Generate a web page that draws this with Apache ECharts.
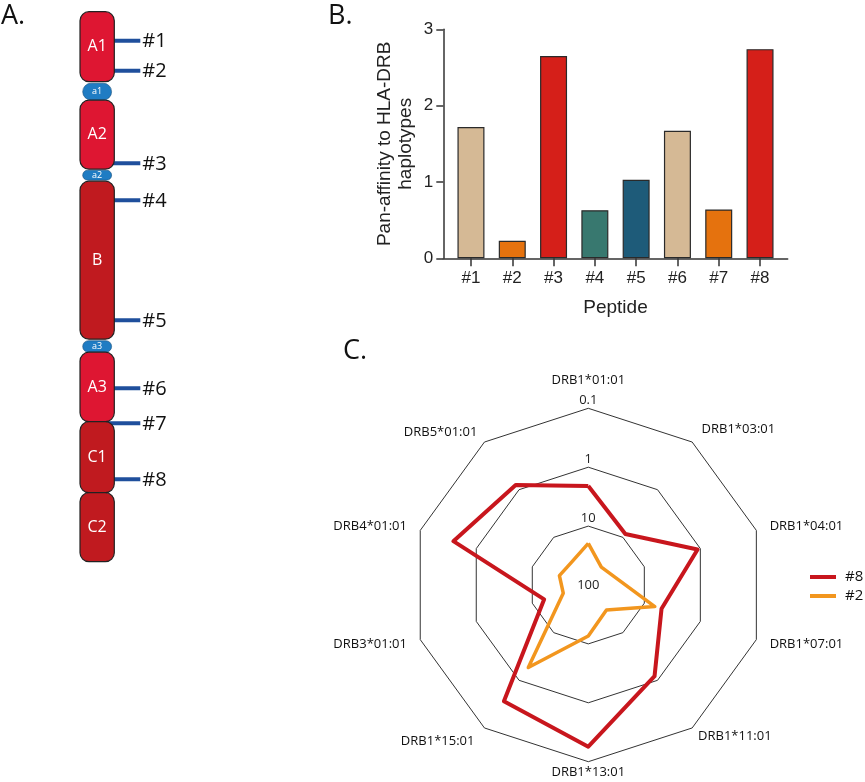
<!DOCTYPE html>
<html><head><meta charset="utf-8">
<script src="https://cdn.jsdelivr.net/npm/echarts@6/dist/echarts.min.js"></script>
<style>html,body{margin:0;padding:0;background:#fff}#c{width:865px;height:782px}</style>
</head><body><div id="c"></div>
<script>
// ---------- Panel A: factor VIII domain schematic ----------
const domainNames = ['A1', 'a1', 'A2', 'a2', 'B', 'a3', 'A3', 'C1', 'C2'];
const domainStart = [0, 71.5, 88.5, 158.5, 169.5, 329, 340.5, 410, 481];
const domainEnd   = [70, 88.5, 157.5, 168.5, 327.5, 340.5, 410, 481, 550];
const domainKind  = ['A', 'acidic', 'A', 'acidic', 'B', 'acidic', 'A', 'C', 'C'];
const peptideLabels = ['#1', '#2', '#3', '#4', '#5', '#6', '#7', '#8'];
const peptidePos = [29, 59, 151.5, 188.5, 308.5, 376.5, 411.5, 467.5];

// ---------- Panel B: pan-affinity bars ----------
const barCategories = ['#1', '#2', '#3', '#4', '#5', '#6', '#7', '#8'];
const panAffinity = [1.72, 0.23, 2.65, 0.63, 1.03, 1.67, 0.64, 2.74];
const barColors = ['#D5B995', '#E5720E', '#D51F19', '#38786F', '#1E5B79', '#D5B995', '#E5720E', '#D51F19'];

// ---------- Panel C: radar (affinity, log scale, 100 at centre -> 0.1 outside) ----------
const alleles = ['DRB1*01:01', 'DRB1*03:01', 'DRB1*04:01', 'DRB1*07:01', 'DRB1*11:01',
                 'DRB1*13:01', 'DRB1*15:01', 'DRB3*01:01', 'DRB4*01:01', 'DRB5*01:01'];
const affinity8 = [2.08, 8.5, 1.12, 4.93, 1.22, 0.18, 0.365, 16.3, 0.39, 0.80];
const affinity2 = [19.6, 42, 34.5, 6.5, 29.9, 13.6, 1.85, 35.7, 30.5, 33];
const radarTickLabels = ['100', '10', '1', '0.1'];
const nameGaps = [22, 16, 14, 14, 10, 4, 17, 14, 14, 12];

const RED = '#C8161D', ORANGE = '#F2961E';
const FONT_M = 'Open Sans';
const FONT_A = 'Liberation Sans, Arial, sans-serif';

// ECharts radar runs counter-clockwise; reference runs clockwise from top
const ccw = [0].concat(alleles.map((_, i) => i).slice(1).reverse());
const toRadar = arr => ccw.map(i => 2 - Math.log10(arr[i]));

const domainColor = {A: '#DE1632', B: '#C01A1F', C: '#C01A1F', acidic: '#1F7CC3'};

const chart = echarts.init(document.getElementById('c'), null, {renderer: 'canvas'});
const letterStyle = {fontSize: 27, fontWeight: 'normal', color: '#111', fontFamily: FONT_M};
const option = {
  animation: false,
  backgroundColor: '#fff',
  title: [
    {text: 'A.', left: 1, top: 3, padding: 0, textStyle: letterStyle},
    {text: 'B.', left: 328, top: 3, padding: 0, textStyle: letterStyle},
    {text: 'C.', left: 343, top: 338, padding: 0, textStyle: letterStyle}
  ],
  legend: {
    data: ['#8', '#2'], orient: 'vertical', left: 810, top: 569, padding: 0,
    icon: 'rect', itemWidth: 26, itemHeight: 4, itemGap: 3,
    textStyle: {fontSize: 15, color: '#111', fontFamily: FONT_M, lineHeight: 16, padding: [0, 0, 0, 4]}
  },
  grid: [
    {left: 443.3, top: 29.3, width: 344.4, height: 229},
    {left: 80, top: 11.7, width: 34.3, height: 550}
  ],
  xAxis: [
    {
      type: 'value', gridIndex: 0, min: 0.33, max: 8.67,
      axisLine: {show: true, lineStyle: {color: '#333', width: 1.5}},
      axisTick: {show: true, customValues: [1, 2, 3, 4, 5, 6, 7, 8], length: 8, lineStyle: {color: '#333', width: 1.5}},
      axisLabel: {customValues: [1, 2, 3, 4, 5, 6, 7, 8], formatter: v => barCategories[Math.round(v) - 1],
                  fontSize: 17, color: '#222', margin: 12, fontFamily: FONT_A},
      splitLine: {show: false},
      name: 'Peptide', nameLocation: 'middle', nameGap: 40,
      nameTextStyle: {fontSize: 19, color: '#222', fontFamily: FONT_A}
    },
    {type: 'value', gridIndex: 1, min: 0, max: 1, show: false}
  ],
  yAxis: [
    {
      type: 'value', gridIndex: 0, min: 0, max: 3, interval: 1,
      axisLine: {show: true, lineStyle: {color: '#333', width: 1.5}},
      axisTick: {show: true, length: 7, lineStyle: {color: '#333', width: 1.5}},
      axisLabel: {fontSize: 17, color: '#222', margin: 10, fontFamily: FONT_A},
      splitLine: {show: false},
      name: 'Pan-affinity to HLA-DRB\nhaplotypes', nameLocation: 'middle', nameGap: 27,
      nameTextStyle: {fontSize: 19, color: '#222', fontFamily: FONT_A, lineHeight: 21}
    },
    {type: 'value', gridIndex: 1, min: 0, max: 550, inverse: true, show: false}
  ],
  radar: {
    center: [588.3, 585], radius: 176.7, startAngle: 90, shape: 'polygon', splitNumber: 3,
    indicator: ccw.map((idx, k) => {
      const ind = {name: alleles[idx], min: 0, max: 3, nameGap: nameGaps[idx]};
      if (k === 0) {
        ind.axisLabel = {
          show: true, margin: 0, align: 'center', verticalAlign: 'middle',
          formatter: v => {
            const s = radarTickLabels[Math.round(v)];
            return Math.round(v) === 0 ? '{c|' + s + '}' : '{u|' + s + '}';
          },
          rich: {
            c: {fontSize: 13, color: '#222', fontFamily: FONT_M},
            u: {fontSize: 13, color: '#222', fontFamily: FONT_M, padding: [0, 0, 16, 0]}
          }
        };
      }
      return ind;
    }),
    axisName: {color: '#111', fontSize: 13, fontFamily: FONT_M},
    splitLine: {lineStyle: {color: '#333', width: 1}},
    splitArea: {show: false},
    axisLine: {show: false},
    axisTick: {show: false},
    axisLabel: {show: false}
  },
  series: [
    {
      type: 'bar', xAxisIndex: 0, yAxisIndex: 0, barWidth: 27,
      data: panAffinity.map((v, i) => ({value: [i + 1, v], itemStyle: {color: barColors[i]}})),
      itemStyle: {borderColor: '#2a2a2a', borderWidth: 1.2}
    },
    {
      type: 'custom', xAxisIndex: 1, yAxisIndex: 1, clip: false, z: 1,
      data: peptidePos.map(p => [p]),
      encode: {y: 0},
      renderItem: (params, api) => {
        const pt = api.coord([1, api.value(0)]);
        return {
          type: 'group', children: [
            {type: 'line', shape: {x1: pt[0] - 7, y1: pt[1], x2: pt[0] + 26, y2: pt[1]},
             style: {stroke: '#1F4F9C', lineWidth: 4}},
            {type: 'text', style: {text: peptideLabels[params.dataIndex], x: pt[0] + 28, y: pt[1] + 1,
             align: 'left', verticalAlign: 'middle', fill: '#111', fontSize: 20, fontFamily: FONT_M}}
          ]
        };
      }
    },
    {
      type: 'custom', xAxisIndex: 1, yAxisIndex: 1, clip: false, z: 3,
      data: domainStart.map((s, i) => [s, domainEnd[i]]),
      encode: {y: [0, 1]},
      renderItem: (params, api) => {
        const i = params.dataIndex;
        const p0 = api.coord([0, api.value(0)]);
        const p1 = api.coord([1, api.value(1)]);
        const acidic = domainKind[i] === 'acidic';
        const inset = acidic ? 2.7 : 0;
        const x = p0[0] + inset, w = p1[0] - p0[0] - 2 * inset;
        const y = p0[1], h = p1[1] - p0[1];
        return {
          type: 'group', children: [
            {type: 'rect', shape: {x, y, width: w, height: h, r: acidic ? h / 2 : 9},
             style: {fill: domainColor[domainKind[i]], stroke: acidic ? '#1a4f7a' : '#222', lineWidth: acidic ? 0.6 : 1.2}},
            {type: 'text', style: {text: domainNames[i], x: x + w / 2, y: y + h / 2,
             align: 'center', verticalAlign: 'middle', fill: '#fff',
             fontSize: acidic ? 9 : 16, fontFamily: FONT_M}}
          ]
        };
      }
    },
    {
      type: 'radar', radarIndex: 0, symbol: 'none',
      data: [
        {name: '#8', value: toRadar(affinity8), lineStyle: {color: RED, width: 4}, itemStyle: {color: RED}},
        {name: '#2', value: toRadar(affinity2), lineStyle: {color: ORANGE, width: 3.5}, itemStyle: {color: ORANGE}}
      ]
    }
  ]
};
chart.setOption(option);
</script></body></html>
